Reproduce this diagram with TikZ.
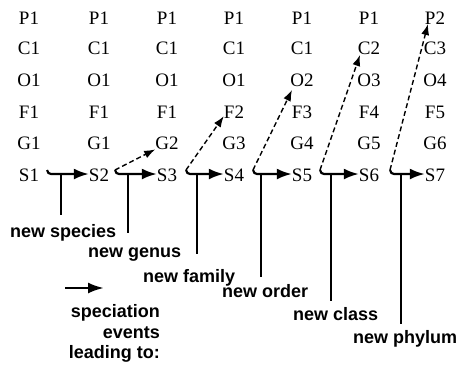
\documentclass[tikz,border=0pt]{standalone}
\usepackage{fontspec}
\setmainfont{Liberation Serif}
\newfontfamily\gridfont{Liberation Serif}
\newfontfamily\labfont{Liberation Sans}
\usetikzlibrary{arrows.meta,calc}
\tikzset{
  grid/.style={font=\gridfont\fontsize{19}{19}\selectfont, anchor=base, inner sep=0pt},
  lab/.style={font=\labfont\bfseries\fontsize{18}{18}\selectfont, anchor=base west, inner sep=0pt},
  legtxt/.style={font=\labfont\bfseries\fontsize{18}{18}\selectfont, anchor=base east, inner sep=0pt},
  harrow/.style={line width=2.2pt, -{Latex[length=15pt,width=11pt]}},
  darrow/.style={line width=1.4pt, dash pattern=on 5pt off 3pt, -{Latex[length=11pt,width=8pt]}},
  vline/.style={line width=1.5pt},
}
\begin{document}
\begin{tikzpicture}[x=1pt,y=-1pt]
\useasboundingbox (0,0) rectangle (458,368);
% grid of taxa
\def\rowP{24}\def\rowC{54}\def\rowO{86}\def\rowF{118}\def\rowG{149}\def\rowS{181}
\foreach \c/\x/\p/\cc/\o/\f/\g in {1/29/P1/C1/O1/F1/G1, 2/99/P1/C1/O1/F1/G1, 3/167/P1/C1/O1/F1/G2, 4/234/P1/C1/O1/F2/G3, 5/302/P1/C1/O2/F3/G4, 6/369/P1/C2/O3/F4/G5, 7/435/P2/C3/O4/F5/G6}{
  \node[grid] (P\c) at (\x,\rowP) {\p};
  \node[grid] (C\c) at (\x,\rowC) {\cc};
  \node[grid] (O\c) at (\x,\rowO) {\o};
  \node[grid] (F\c) at (\x,\rowF) {\f};
  \node[grid] (G\c) at (\x,\rowG) {\g};
  \node[grid] (S\c) at (\x,\rowS) {S\c};
}
% hook points
\coordinate (h1) at (47,170);
\coordinate (h2) at (115,170);
\coordinate (h3) at (186,170);
\coordinate (h4) at (253,170);
\coordinate (h5) at (320,170);
\coordinate (h6) at (390,170);
% horizontal speciation arrows
\foreach \a/\b in {1/2,2/3,3/4,4/5,5/6,6/7}{
  \draw[harrow] (h\a) .. controls +(0.5,2.5) and +(-2,0) .. ++(4,4) -- (S\b.west |- 0,174);
}
% dashed arrows to new higher taxa
\draw[darrow] (h2) -- (G3.south west);
\draw[darrow] (h3) -- ($(F4.south west)+(0,-2)$);
\draw[darrow] (h4) -- (292,90);
\draw[darrow] (h5) -- (360,55);
\draw[darrow] (h6) -- (428,24);
% labels
\node[lab] (l1) at (10,237) {new species};
\node[lab] (l2) at (88,257) {new genus};
\node[lab] (l3) at (143,282) {new family};
\node[lab] (l4) at (222,297) {new order};
\node[lab] (l5) at (293,320) {new class};
\node[lab] (l6) at (353,343) {new phylum};
% vertical lines
\foreach \i/\x/\yb in {1/61/215,2/128/233,3/197/254,4/261/277,5/331/301,6/401/324}{
  \coordinate (t\i) at (\x,174);
  \coordinate (b\i) at (\x,\yb);
  \draw[vline] (t\i) -- (b\i);
}
% legend
\coordinate (la) at (65,288);
\coordinate (lb) at (104,288);
\draw[line width=2.6pt, -{Latex[length=16pt,width=11pt]}] (la) -- (lb);
\node[legtxt] (e1) at (160,317) {speciation};
\node[legtxt] (e2) at (160,338) {events};
\node[legtxt] (e3) at (160,358) {leading to:};
\end{tikzpicture}
\end{document}
